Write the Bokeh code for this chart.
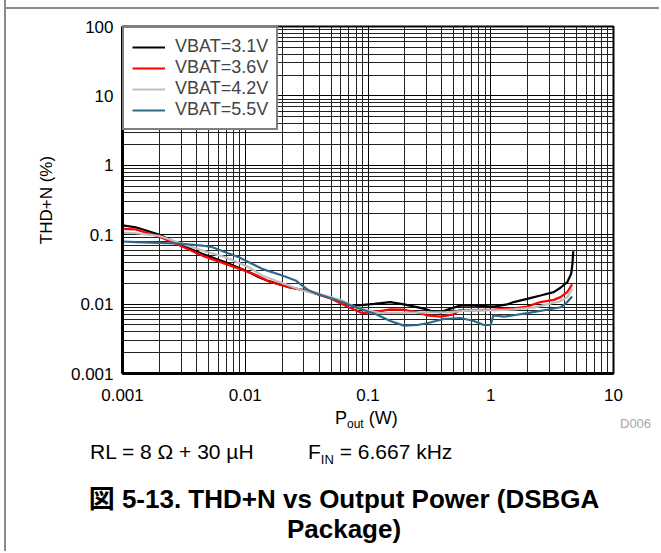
from bokeh.plotting import figure
from bokeh.models import FixedTicker, Legend, LegendItem, Range1d, Div
from bokeh.layouts import column
from bokeh.embed import file_html
from bokeh.resources import INLINE

# ---------------- data ----------------
series_names = ["VBAT=3.1V", "VBAT=3.6V", "VBAT=4.2V", "VBAT=5.5V"]
series_colors = ["#000000", "#FF0000", "#BFBFBF", "#2E6A87"]

pout_31 = [0.001, 0.00128, 0.00198, 0.00306, 0.00446, 0.0069, 0.010, 0.0114, 0.0129, 0.0156,
           0.0227, 0.031, 0.0424, 0.0617, 0.0698, 0.0842, 0.112, 0.152, 0.196, 0.285, 0.333,
           0.39, 0.47, 0.567, 0.728, 1.06, 1.36, 1.54, 1.98, 2.54, 3.26, 3.70, 4.20, 4.52, 4.63, 4.70]
thd_31 = [0.136, 0.128, 0.1006, 0.0698, 0.053, 0.0402, 0.0305, 0.0273, 0.0244, 0.0214,
          0.0175, 0.0157, 0.0133, 0.011, 0.0097, 0.0096, 0.0101, 0.0107, 0.0099, 0.0086, 0.0079,
          0.0076, 0.0086, 0.0095, 0.0095, 0.0092, 0.0099, 0.0107, 0.0119, 0.0133, 0.0149, 0.0172,
          0.0207, 0.0273, 0.038, 0.0578]

pout_36 = [0.001, 0.00128, 0.00198, 0.00306, 0.00446, 0.0069, 0.0107, 0.0121, 0.0156, 0.0227,
           0.033, 0.048, 0.0698, 0.09, 0.1265, 0.152, 0.196, 0.252, 0.303, 0.39, 0.50, 0.55,
           0.684, 1.06, 1.54, 1.98, 2.54, 3.26, 3.70, 4.20, 4.60]
thd_36 = [0.1216, 0.119, 0.094, 0.0676, 0.050, 0.038, 0.0288, 0.0264, 0.0212, 0.0175,
          0.0152, 0.0123, 0.0090, 0.0074, 0.0079, 0.0084, 0.0083, 0.0076, 0.0069, 0.0066, 0.0071,
          0.0081, 0.0081, 0.0083, 0.0087, 0.0092, 0.0107, 0.0115, 0.0126, 0.0149, 0.0192]

pout_42 = [0.001, 0.00128, 0.00198, 0.00306, 0.00446, 0.0069, 0.0107, 0.0137, 0.0176, 0.0227,
           0.0291, 0.0424, 0.0617, 0.079, 0.1017, 0.1265, 0.196, 0.303, 0.44, 0.684, 1.06, 1.54,
           2.24, 2.88, 3.70, 4.20, 4.60]
thd_42 = [0.1065, 0.105, 0.0964, 0.074, 0.0592, 0.0474, 0.034, 0.0258, 0.0219, 0.0185,
          0.0157, 0.0136, 0.0113, 0.0090, 0.0081, 0.0074, 0.0075, 0.0076, 0.0076, 0.0081, 0.0081,
          0.0084, 0.0089, 0.0099, 0.0110, 0.0126, 0.0166]

pout_55 = [0.001, 0.00128, 0.00198, 0.00306, 0.00446, 0.0054, 0.0069, 0.0089, 0.0107, 0.0137,
           0.020, 0.0257, 0.033, 0.0424, 0.0617, 0.079, 0.115, 0.152, 0.196, 0.252, 0.303, 0.415,
           0.567, 0.728, 0.878, 0.998, 1.05, 1.28, 1.54, 1.98, 2.88, 3.70, 4.20, 4.60]
thd_55 = [0.0798, 0.078, 0.0764, 0.074, 0.0698, 0.066, 0.056, 0.0474, 0.0402, 0.0322,
          0.0258, 0.0219, 0.0157, 0.0133, 0.0107, 0.0090, 0.0072, 0.0057, 0.0049, 0.0050, 0.0053,
          0.0061, 0.0063, 0.0057, 0.0050, 0.0050, 0.0069, 0.0066, 0.0069, 0.0074, 0.0083, 0.0090,
          0.0107, 0.0129]

x_ticks = [0.001, 0.01, 0.1, 1, 10]
x_tick_labels = ["0.001", "0.01", "0.1", "1", "10"]
y_ticks = [0.001, 0.01, 0.1, 1, 10, 100]
y_tick_labels = ["0.001", "0.01", "0.1", "1", "10", "100"]
mantissas = [2, 3, 4, 5, 6, 7, 8, 9]

y_axis_title = "THD+N (%)"
x_axis_title = ("P", "out", "(W)")
note_rl = "RL = 8 \u03A9 + 30 \u00B5H"
note_fin = ("F", "IN", "= 6.667 kHz")
caption_1 = "\u56F3 5-13. THD+N vs Output Power (DSBGA"
caption_2 = "Package)"
tag = "D006"

# ---------------- main chart ----------------
FONT = "Liberation Sans, Arial, Helvetica, sans-serif"

W = 653
FL, FT, FB = 116, 17, 35
FW, FH = 491, 347
p = figure(x_axis_type="log", y_axis_type="log",
           x_range=Range1d(0.001, 10), y_range=Range1d(0.001, 100),
           frame_width=FW, frame_height=FH,
           min_border_left=FL, min_border_top=FT,
           min_border_right=W - FL - FW, min_border_bottom=FB,
           output_backend="svg", toolbar_location=None,
           background_fill_color="white", border_fill_color="white")

x_minor = [m * t for t in x_ticks[:-1] for m in mantissas]
y_minor = [m * t for t in y_ticks[:-1] for m in mantissas]
p.xaxis.ticker = FixedTicker(ticks=x_ticks, minor_ticks=x_minor)
p.yaxis.ticker = FixedTicker(ticks=y_ticks, minor_ticks=y_minor)
p.xaxis.major_label_overrides = dict(zip(x_ticks, x_tick_labels))
p.yaxis.major_label_overrides = dict(zip(y_ticks, y_tick_labels))

for ax in (p.xaxis, p.yaxis):
    ax.major_tick_line_color = None
    ax.minor_tick_line_color = None
    ax.major_tick_out = 0
    ax.major_tick_in = 0
    ax.minor_tick_out = 0
    ax.axis_line_width = 3
    ax.axis_line_color = "black"
    ax.major_label_text_font = FONT
    ax.major_label_text_font_size = "17px"
    ax.major_label_text_color = "black"
    ax.axis_label_text_font = FONT
    ax.axis_label_text_font_size = "17px"
    ax.axis_label_text_font_style = "normal"
    ax.axis_label_text_color = "black"

p.xaxis.major_label_standoff = 15
p.yaxis.major_label_standoff = 9
p.yaxis.axis_label = y_axis_title
p.yaxis.axis_label_standoff = 12

for g in (p.xgrid, p.ygrid):
    g.grid_line_color = "#000000"
    g.grid_line_width = 1
    g.minor_grid_line_color = "#222222"
    g.minor_grid_line_width = 1

p.outline_line_color = "black"
p.outline_line_width = 2

xs = [pout_31, pout_36, pout_42, pout_55]
ys = [thd_31, thd_36, thd_42, thd_55]
items = []
for name, col, x, y in zip(series_names, series_colors, xs, ys):
    r = p.line(x, y, line_color=col, line_width=2.2)
    items.append(LegendItem(label=name, renderers=[r]))

legend = Legend(items=items, location="top_left", margin=0, padding=8, spacing=0,
                glyph_width=33, glyph_height=20, label_height=20, label_standoff=10,
                label_text_font=FONT, label_text_font_size="18px",
                border_line_color="black", border_line_width=2,
                background_fill_color="white", background_fill_alpha=1)
p.add_layout(legend, "center")

# ---------------- text block below the chart ----------------
H2 = 143
FF = "'Liberation Sans', Arial, Helvetica, sans-serif"
FFJ = "'Liberation Sans', Arial, 'Noto Sans CJK JP', sans-serif"

def span(left, top, size, inner, extra=""):
    return (f'<span style="position:absolute;left:{left}px;top:{top}px;font-size:{size}px;'
            f'line-height:1;white-space:nowrap;{extra}">{inner}</span>')

html = (
    f'<div style="position:relative;width:{W}px;height:{H2}px;font-family:{FF};color:#000;">'
    + span(329, 1, 18, f'{x_axis_title[0]}<span style="font-size:12px;position:relative;top:4px;">'
           f'{x_axis_title[1]}</span> {x_axis_title[2]}')
    + span(614, 9, 13, tag, "color:#A6A6A6;")
    + span(84, 33, 21, note_rl)
    + span(302, 33, 21, f'{note_fin[0]}<span style="font-size:13px;position:relative;top:5px;">'
           f'{note_fin[1]}</span> {note_fin[2]}')
    + span(338, 78, 26, caption_1, f"transform:translateX(-50%);font-weight:bold;font-family:{FFJ};")
    + span(338, 108, 26, caption_2, f"transform:translateX(-50%);font-weight:bold;font-family:{FFJ};")
    + '</div>'
)
notes = Div(text=html, width=W, height=H2, margin=0)

hline = Div(text="", width=W, height=2, margin=(7, 0, 0, 0),
            styles={"background-color": "#8C8C8C"})

layout = column(hline, p, notes, margin=(0, 0, 0, 4),
                styles={"border-left": "2px solid #8C8C8C"})
open("out.html", "w").write(file_html(layout, INLINE))
